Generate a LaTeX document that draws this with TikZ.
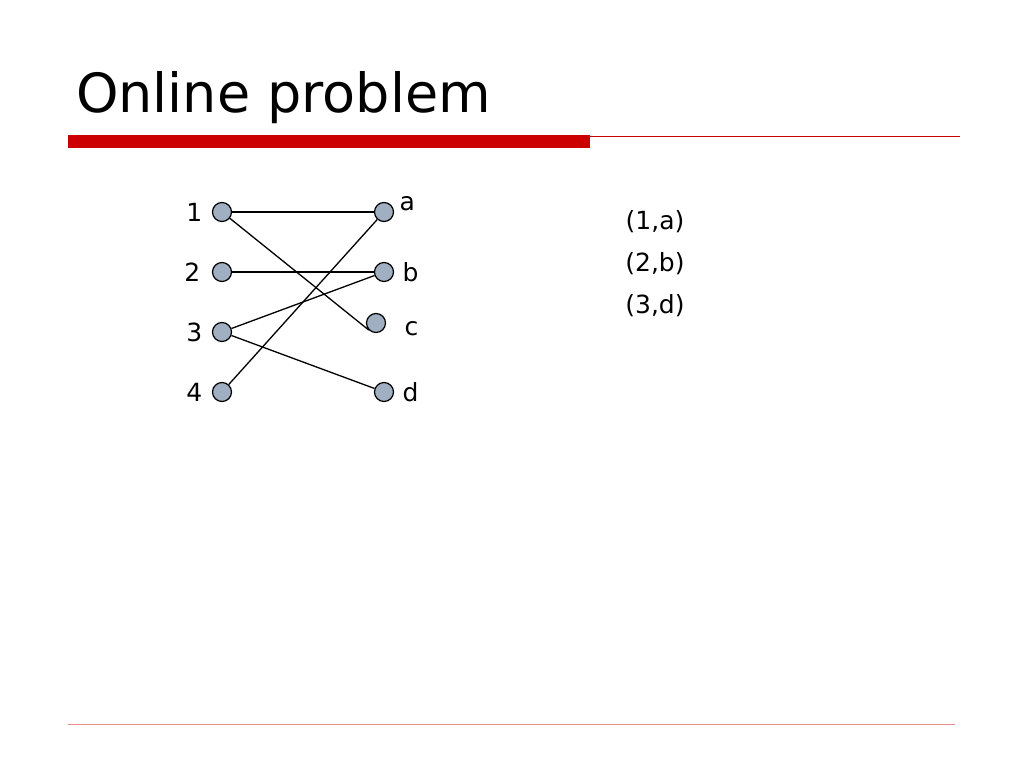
\documentclass[tikz,border=0pt]{standalone}
\usepackage{fontspec}
\setmainfont{DejaVu Sans}
\usetikzlibrary{positioning}
\definecolor{slidered}{RGB}{204,0,0}
\definecolor{vertexfill}{RGB}{160,175,194}

\begin{document}
\begin{tikzpicture}[x=1pt,y=-1pt,
  vertex/.style={circle, draw, line width=1.2pt, fill=vertexfill, minimum size=19pt, inner sep=0pt},
  lbl/.style={font=\fontsize{25}{30}\selectfont},
  pair/.style={font=\fontsize{25}{30}\selectfont},
  edge/.style={line width=1.3pt}]
\useasboundingbox (0,0) rectangle (1024,768);
\node[anchor=base west, inner sep=0pt, font=\fontsize{54}{64}\selectfont] (title) at (76,112) {Online problem};
\fill[slidered] (68,135) rectangle (590,148);
\draw[slidered, thick] (590,136) -- (960,136);
\draw[slidered!45] (68,724) -- (955,724);
% left side
\node[vertex] (v1) at (222,212) {};
\node[vertex] (v2) at (222,272) {};
\node[vertex] (v3) at (222,332) {};
\node[vertex] (v4) at (222,392) {};
\node[lbl, left=6pt of v1] {1};
\node[lbl, left=8pt of v2] {2};
\node[lbl, left=6pt of v3] {3};
\node[lbl, left=6pt of v4] {4};
% right side
\node[vertex] (va) at (384,212) {};
\node[vertex] (vb) at (384,272) {};
\node[vertex] (vc) at (376,323) {};
\node[vertex] (vd) at (384,392) {};
\node[lbl, above right=-10pt and 5pt of va] {a};
\node[lbl, right=5pt of vb] {b};
\node[lbl, right=15pt of vc, yshift=-6pt] {c};
\node[lbl, right=5pt of vd] {d};
\draw[edge] (v1) -- (va);
\draw[edge] (v1) -- (vc.south west);
\draw[edge] (v2) -- (vb);
\draw[edge] (v3) -- (vb);
\draw[edge] (v3) -- (vd);
\draw[edge] (v4) -- (va);
% matching
\node[pair] (m1) at (655,222) {(1,a)};
\node[pair, below=42pt of m1.center, anchor=center] (m2) {(2,b)};
\node[pair, below=42pt of m2.center, anchor=center] (m3) {(3,d)};
\end{tikzpicture}
\end{document}
